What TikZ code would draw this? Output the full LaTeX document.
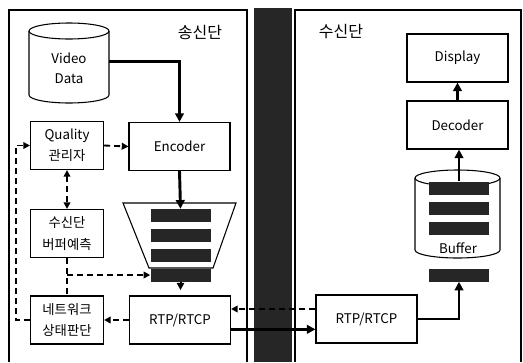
\documentclass[tikz,border=0pt]{standalone}
\usepackage{fontspec}
\setmainfont{Noto Sans CJK KR}
\usetikzlibrary{arrows.meta,calc}

\begin{document}
\begin{tikzpicture}[x=0.75pt,y=0.75pt,
    box/.style={draw, line width=0.8pt, fill=white, align=center, inner sep=0pt, font=\fontsize{10}{16}\selectfont},
    wide/.style={box, minimum width=75.75pt, minimum height=36pt},
    narrow/.style={box, minimum width=54.75pt, minimum height=36pt},
    pkt/.style={fill=black!85, minimum width=45pt, minimum height=9.75pt, inner sep=0pt},
    side/.style={font=\fontsize{12}{14}\selectfont},
    wall/.style={line width=0.8pt},
    thk/.style={line width=2.2pt, >={Triangle[length=6.5pt,width=6.5pt]}, ->},
    mid/.style={line width=1.5pt, >={Triangle[length=5.5pt,width=5.5pt]}, ->},
    dsh/.style={line width=1.4pt, dash pattern=on 4.5pt off 3pt, >={Triangle[length=5pt,width=5pt]}}]
  \useasboundingbox (0,0) rectangle (523,362);
  % two sides and the network between them
  \fill[black!85] (254,0) rectangle (292,354);
  \draw[wall] (9,0) -- (9,352) -- (247,352) -- (247,0);
  \draw[wall] (295,0) -- (295,352) -- (521,352) -- (521,0);
  \node[side] (txl) at (200,330) {송신단};
  \node[side] (rxl) at (341,330) {수신단};
  % sender
  \draw[wall, fill=white] (29,331) -- (29,267) arc[start angle=180, end angle=360, x radius=30pt, y radius=6pt]
    -- (109,331) arc[start angle=0, end angle=180, x radius=30pt, y radius=6pt] -- cycle;
  \draw[wall] (29,331) arc[start angle=180, end angle=360, x radius=30pt, y radius=6pt];
  \node[align=center, inner sep=0pt, minimum width=60pt, font=\fontsize{10}{15}\selectfont] (vid) at (69,294) {Video\\Data};
  \node[narrow] (qual) at (67,216.5) {Quality\\관리자};
  \node[wide] (enc) at (179.5,215.5) {Encoder};
  \node[narrow] (pred) at (67,128.5) {수신단\\버퍼예측};
  \node[narrow] (net) at (67,42) {네트워크\\상태판단};
  \node[wide] (rtpL) at (180,42) {RTP/RTCP};
  \draw[wall, fill=white] (123,159) -- (236,159) -- (213,94) -- (149,94) -- cycle;
  \foreach \y [count=\k] in {146.5,126.5,106.5,87} \node[pkt] (q\k) at (180.5,\y) {};
  % receiver
  \node[wide] (disp) at (457.5,304) {Display};
  \node[wide] (dec) at (457.5,237) {Decoder};
  \draw[wall, fill=white] (415,184) -- (415,112) arc[start angle=180, end angle=360, x radius=31.875pt, y radius=6pt]
    -- (500,184) arc[start angle=0, end angle=180, x radius=31.875pt, y radius=6pt] -- cycle;
  \draw[wall] (415,184) arc[start angle=180, end angle=360, x radius=31.875pt, y radius=6pt];
  \node[font=\fontsize{10}{12}\selectfont] (buf) at (458,114) {Buffer};
  \foreach \y [count=\k] in {174,153.5,134,87} \node[pkt] (b\k) at (459,\y) {};
  \node[wide] (rtpR) at (366.5,43) {RTP/RTCP};
  % data path
  \draw[thk] ([yshift=5pt]vid.east) -| (enc.north);
  \draw[thk] (enc.south) -- (q1.north);
  \draw[mid, shorten >=4pt] (q4.south) -- (q4.south |- rtpL.north);
  \draw[thk] ([yshift=-7pt]rtpL.east) -- ([yshift=-7pt]rtpL.east -| rtpR.west);
  \draw[thk] (rtpR.east) -| (b4.south);
  \draw[thk] (b1.north) -- (b1.north |- dec.south);
  \draw[thk] (dec.north) -- (disp.south);
  % feedback
  \draw[dsh, ->] ([yshift=7.5pt]rtpR.west) -- ([yshift=7.5pt]rtpR.west -| rtpL.east);
  \draw[dsh, ->] (rtpL.west) -- (net.east);
  \draw[dsh, ->] (net.west) -- ++(-14,0) |- (qual.west);
  \draw[dsh] (pred.south) -- (net.north);
  \draw[dsh, ->] (pred.south |- q4.west) -- (q4.west);
  \draw[dsh, <->] (qual.south) -- (pred.north);
  \draw[dsh, ->] (qual.east) -- (enc.west);
\end{tikzpicture}
\end{document}
